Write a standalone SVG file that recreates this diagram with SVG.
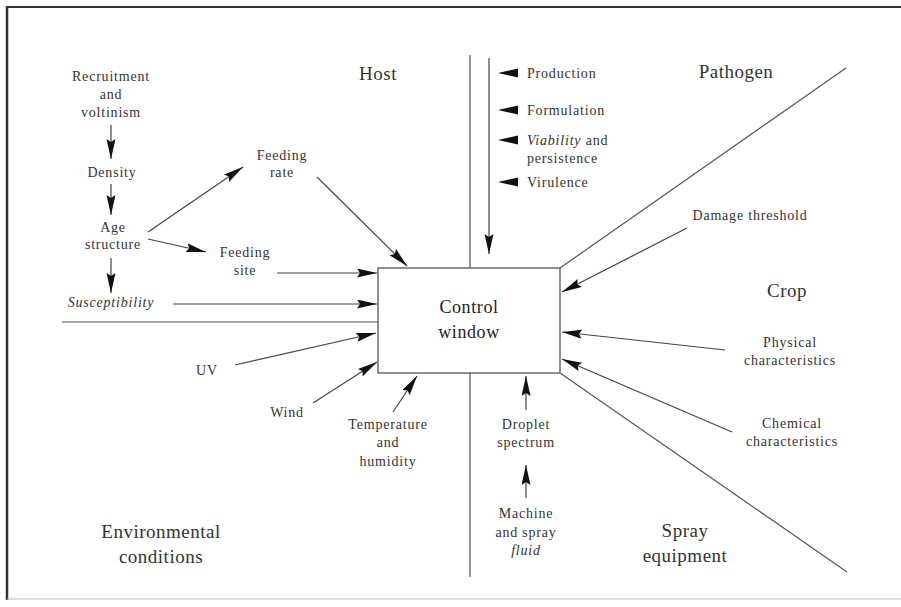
<svg xmlns="http://www.w3.org/2000/svg" width="901" height="607" viewBox="0 0 901 607">
<defs>
<style>
text{font-family:"Liberation Serif","Times New Roman",serif;fill:#333}
.s{font-size:14px;letter-spacing:0.8px;text-anchor:middle}
.l{font-size:14px;letter-spacing:0.8px;text-anchor:start}
.b{font-size:19px;letter-spacing:0.5px;text-anchor:middle}
.c{font-size:18px;letter-spacing:0.6px;text-anchor:middle;fill:#222}
.i{font-style:italic}
.ln{stroke:#555;stroke-width:1.2;fill:none}
.ar{stroke:#444;stroke-width:1.2;fill:none;marker-end:url(#ah)}
.tri{fill:#111}
</style>
<marker id="ah" markerUnits="userSpaceOnUse" markerWidth="22" markerHeight="12" refX="20" refY="4.5" orient="auto"><path d="M0,0 L20,4.5 L0,9 L3,4.5 Z" fill="#111"/></marker>
</defs>
<rect width="901" height="607" fill="#fff"/>
<g id="frame">
<line x1="7" y1="7" x2="901" y2="7" stroke="#333" stroke-width="2"/>
<line x1="7" y1="6" x2="7" y2="600" stroke="#333" stroke-width="2.5"/>
<line x1="7" y1="599" x2="901" y2="599" stroke="#bbb" stroke-width="1"/>
</g>
<g id="connectors">
<line class="ln" x1="470" y1="55" x2="470" y2="577"/>
<line class="ar" x1="489" y1="58" x2="489" y2="254"/>
<line class="ln" x1="62" y1="322" x2="378" y2="322"/>
<line class="ln" x1="560" y1="268" x2="846" y2="68"/>
<line class="ln" x1="560" y1="373" x2="847" y2="572"/>
<line class="ar" x1="111" y1="125" x2="111" y2="159"/>
<line class="ar" x1="111" y1="184" x2="111" y2="215"/>
<line class="ar" x1="111" y1="258" x2="111" y2="293"/>
<line class="ar" x1="148" y1="232" x2="243" y2="167"/>
<line class="ar" x1="148" y1="239" x2="206" y2="252"/>
<line class="ar" x1="277" y1="273" x2="377" y2="273"/>
<line class="ar" x1="173" y1="304" x2="377" y2="304"/>
<line class="ar" x1="317" y1="177" x2="407" y2="266"/>
<line class="ar" x1="235" y1="365" x2="376" y2="333"/>
<line class="ar" x1="313" y1="403" x2="377" y2="362"/>
<line class="ar" x1="393" y1="412" x2="417" y2="376"/>
<line class="ar" x1="687" y1="228" x2="562" y2="292"/>
<line class="ar" x1="725" y1="350" x2="562" y2="332"/>
<line class="ar" x1="732" y1="432" x2="562" y2="359"/>
<line class="ar" x1="526" y1="410" x2="526" y2="376"/>
<line class="ar" x1="526" y1="498" x2="526" y2="465"/>
</g>
<g id="control">
<rect x="378" y="268" width="182" height="105" fill="#fff" stroke="#555" stroke-width="1.3"/>
<text class="c" x="469" y="313">Control</text>
<text class="c" x="469" y="338">window</text>
</g>
<g id="host"><text class="b" x="378" y="80">Host</text></g>
<g id="pathogen"><text class="b" x="736" y="78">Pathogen</text></g>
<g id="crop"><text class="b" x="787" y="297">Crop</text></g>
<g id="spray-equipment"><text class="b" x="685" y="537">Spray</text><text class="b" x="685" y="562">equipment</text></g>
<g id="environmental"><text class="b" x="161" y="538">Environmental</text><text class="b" x="161" y="563">conditions</text></g>
<g id="recruitment"><text class="s" x="111" y="81">Recruitment</text><text class="s" x="111" y="99">and</text><text class="s" x="111" y="117">voltinism</text></g>
<g id="density"><text class="s" x="112" y="177">Density</text></g>
<g id="age-structure"><text class="s" x="113" y="232">Age</text><text class="s" x="113" y="249">structure</text></g>
<g id="susceptibility"><text class="s i" x="111" y="307">Susceptibility</text></g>
<g id="feeding-rate"><text class="s" x="282" y="160">Feeding</text><text class="s" x="282" y="177">rate</text></g>
<g id="feeding-site"><text class="s" x="245" y="257">Feeding</text><text class="s" x="245" y="275">site</text></g>
<g id="uv"><text class="s" x="207" y="375">UV</text></g>
<g id="wind"><text class="s" x="287" y="417">Wind</text></g>
<g id="temperature"><text class="s" x="388" y="429">Temperature</text><text class="s" x="388" y="447">and</text><text class="s" x="388" y="466">humidity</text></g>
<g id="production"><polygon class="tri" points="498,73 518,68.5 518,77.5"/><text class="l" x="527" y="78">Production</text></g>
<g id="formulation"><polygon class="tri" points="498,110 518,105.5 518,114.5"/><text class="l" x="527" y="115">Formulation</text></g>
<g id="viability"><polygon class="tri" points="498,140 518,135.5 518,144.5"/><text class="l" x="527" y="145"><tspan class="i">Viability</tspan> and</text><text class="l" x="527" y="163">persistence</text></g>
<g id="virulence"><polygon class="tri" points="498,182 518,177.5 518,186.5"/><text class="l" x="527" y="187">Virulence</text></g>
<g id="damage-threshold"><text class="s" x="750" y="220">Damage threshold</text></g>
<g id="physical"><text class="s" x="790" y="347">Physical</text><text class="s" x="790" y="365">characteristics</text></g>
<g id="chemical"><text class="s" x="792" y="428">Chemical</text><text class="s" x="792" y="446">characteristics</text></g>
<g id="droplet"><text class="s" x="526" y="429">Droplet</text><text class="s" x="526" y="447">spectrum</text></g>
<g id="machine"><text class="s" x="526" y="518">Machine</text><text class="s" x="526" y="537">and spray</text><text class="s i" x="526" y="555">fluid</text></g>
</svg>
